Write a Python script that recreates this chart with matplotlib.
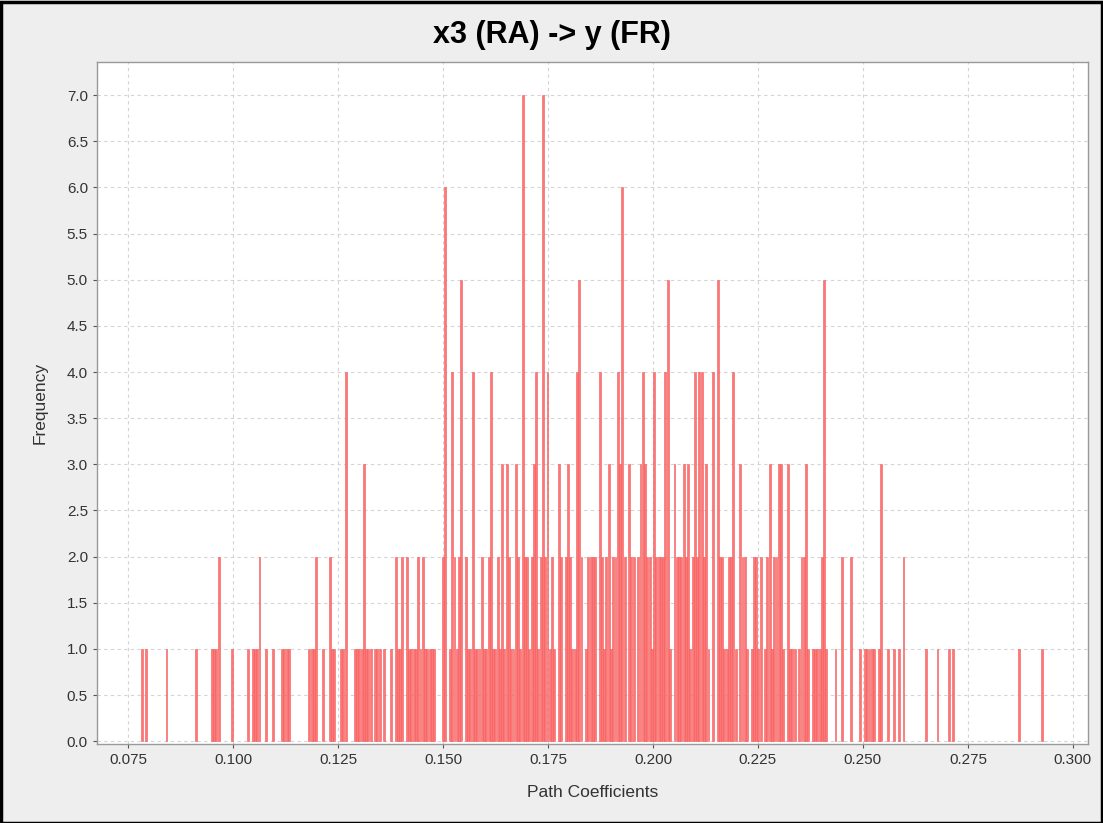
import numpy as np
import matplotlib
matplotlib.use("Agg")
import matplotlib.pyplot as plt
from matplotlib.ticker import FormatStrFormatter, MultipleLocator
from matplotlib.patches import Rectangle

# histogram bins: first bin edge and width (path coefficient units)
bin_start = 0.0780
bin_width = 0.00054

# frequency per bin (bins 0..129, sparse left tail)
freq_left = [
    1, 0, 1, 0, 0, 0, 0, 0, 0, 0, 0, 1, 0, 0, 0, 0, 0, 0, 0, 0,
    0, 0, 0, 0, 1, 0, 0, 0, 0, 0, 0, 1, 1, 1, 2, 0, 0, 0, 0, 0,
    1, 0, 0, 0, 0, 0, 0, 1, 0, 1, 1, 1, 2, 0, 0, 1, 0, 0, 1, 0,
    0, 0, 1, 1, 1, 1, 0, 0, 0, 0, 0, 0, 0, 0, 1, 1, 1, 2, 0, 0,
    1, 0, 0, 2, 1, 1, 0, 0, 1, 1, 4, 0, 0, 0, 1, 1, 1, 1, 3, 1,
    1, 1, 0, 1, 1, 1, 0, 1, 0, 0, 1, 0, 2, 1, 1, 2, 0, 2, 1, 1,
    1, 1, 2, 1, 2, 1, 1, 1, 1, 1,
]
# bins 130..267, dense centre
freq_mid = [
    0, 0, 0, 2, 6, 0, 1, 4, 2, 1,
    2, 5, 0, 2, 1, 1, 4, 1, 1, 1,
    2, 1, 1, 2, 4, 1, 1, 2, 1, 3,
    1, 3, 2, 1, 1, 3, 2, 1, 7, 2,
    2, 1, 2, 3, 4, 1, 2, 7, 2, 4,
    1, 2, 1, 0, 3, 2, 0, 2, 3, 2,
    1, 1, 4, 5, 2, 0, 1, 2, 2, 2,
    2, 0, 4, 2, 1, 2, 3, 1, 2, 2,
    4, 3, 6, 2, 0, 3, 2, 2, 0, 2,
    3, 4, 3, 2, 2, 1, 4, 2, 2, 2,
    2, 4, 5, 1, 0, 3, 2, 2, 2, 3,
    2, 3, 1, 2, 4, 2, 4, 4, 2, 3,
    1, 0, 4, 0, 5, 2, 2, 1, 1, 2,
    2, 4, 1, 0, 3, 2, 2, 1,
]
# bins 268..397, right tail
freq_right = [
    0, 1, 2, 2, 1, 2, 0, 1, 2, 3, 1, 2, 2, 3, 3, 1, 0, 3, 1, 1,
    1, 0, 1, 2, 2, 3, 1, 0, 1, 1, 1, 1, 2, 5, 1, 0, 0, 0, 1, 0,
    0, 2, 0, 0, 0, 2, 0, 0, 0, 1, 0, 1, 1, 1, 1, 1, 0, 1, 3, 0,
    0, 1, 0, 0, 1, 0, 1, 0, 2, 0, 0, 0, 0, 0, 0, 0, 0, 0, 1, 0,
    0, 0, 0, 1, 0, 0, 0, 0, 1, 0, 1, 0, 0, 0, 0, 0, 0, 0, 0, 0,
    0, 0, 0, 0, 0, 0, 0, 0, 0, 0, 0, 0, 0, 0, 0, 0, 0, 0, 0, 1,
    0, 0, 0, 0, 0, 0, 0, 0, 0, 1,
]

freq = np.array(freq_left + freq_mid + freq_right)
edges = bin_start + bin_width * np.arange(len(freq))

x_ticks = [0.075, 0.100, 0.125, 0.150, 0.175, 0.200, 0.225, 0.250, 0.275, 0.300]

fonts = ["Liberation Sans", "DejaVu Sans"]

fig = plt.figure(figsize=(11.03, 8.23), dpi=100, facecolor="#eeeeee")
ax = fig.add_axes([0.0879, 0.096, 0.8985, 0.8287])
ax.set_facecolor("white")

mask = freq > 0
ax.bar(edges[mask], freq[mask], width=bin_width * 0.85, align="edge",
       color="#ff7676", edgecolor="#f05c5c", linewidth=0.4, zorder=3)

ax.set_xlim(0.0676, 0.3036)
ax.set_ylim(-0.03, 7.36)
ax.set_xticks(x_ticks)
ax.xaxis.set_major_formatter(FormatStrFormatter("%.3f"))
ax.yaxis.set_major_locator(MultipleLocator(0.5))
ax.yaxis.set_major_formatter(FormatStrFormatter("%.1f"))

ax.grid(True, color="#d4d4d4", linestyle=(0, (3, 3)), linewidth=0.8, zorder=0)
for s in ax.spines.values():
    s.set_color("#999999")
    s.set_linewidth(1.0)
ax.tick_params(axis="both", labelsize=11, length=3, direction="out",
               colors="#555555", labelcolor="#333333")

ax.set_xlabel("Path Coefficients", fontsize=12.5, color="#333333", labelpad=13, family=fonts)
ax.set_ylabel("Frequency", fontsize=12.5, color="#333333", labelpad=14, family=fonts)
for lab in ax.get_xticklabels() + ax.get_yticklabels():
    lab.set_family(fonts)

fig.text(0.5, 0.958, "x3 (RA) -> y (FR)", ha="center", va="center",
         fontsize=22, fontweight="bold", family=fonts)

# dark frame around the whole picture
fig.patches.append(Rectangle((0.001, 0.0), 0.998, 0.998, transform=fig.transFigure,
                             fill=False, edgecolor="black", linewidth=2.5))

fig.savefig("out.png", dpi=100, facecolor=fig.get_facecolor())
